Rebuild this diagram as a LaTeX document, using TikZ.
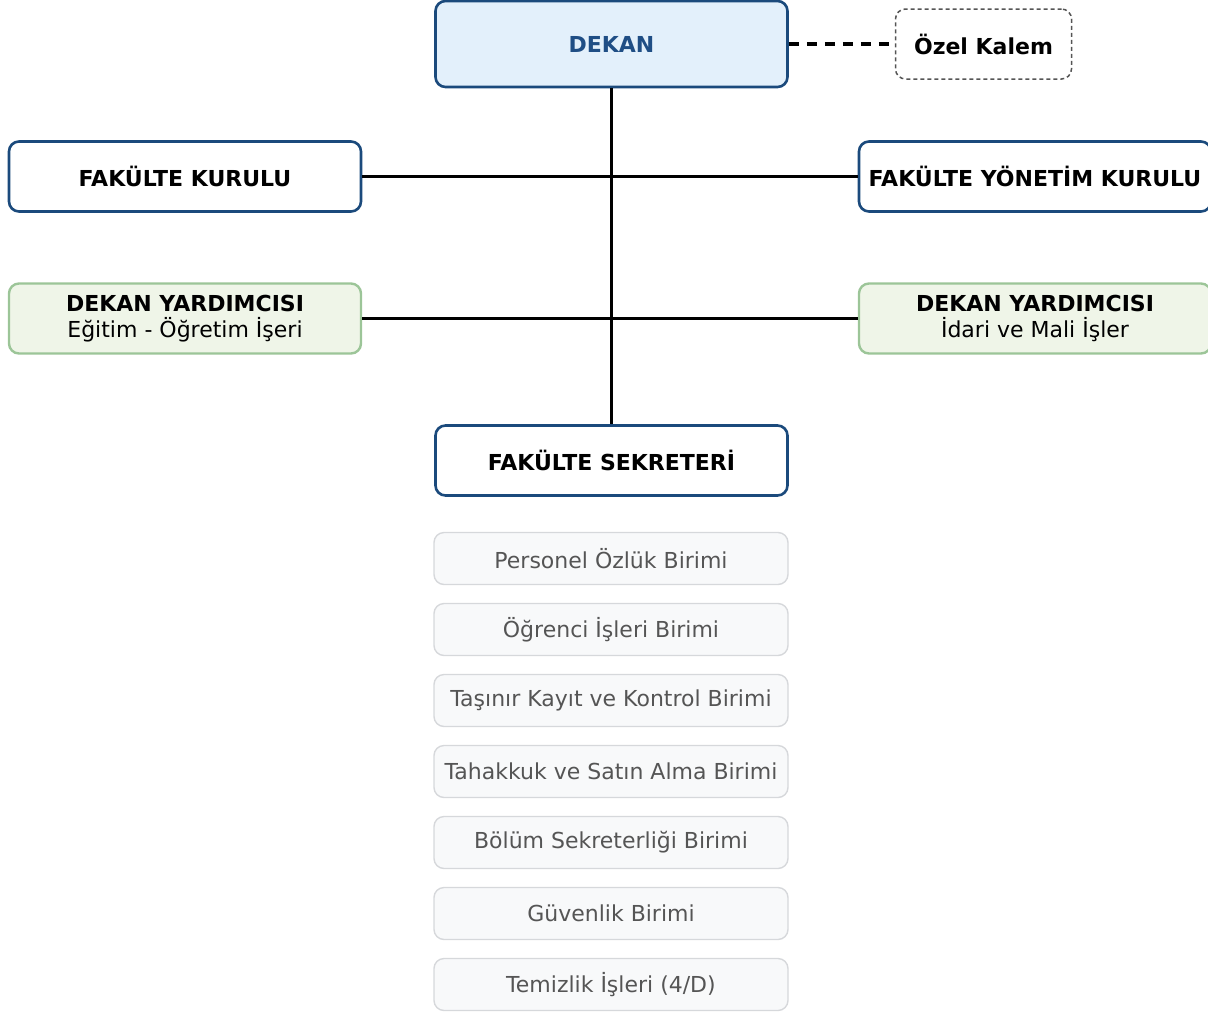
\documentclass[tikz,border=0pt]{standalone}
\usepackage{fontspec}
\setmainfont{DejaVu Sans}
\definecolor{navy}{HTML}{1B4A7C}
\definecolor{dekfill}{HTML}{E3F0FB}
\definecolor{dektext}{HTML}{1F4E85}
\definecolor{grfill}{HTML}{EFF5E8}
\definecolor{grline}{HTML}{9CC598}
\definecolor{unitfill}{HTML}{F8F9FA}
\definecolor{unitline}{HTML}{D6D8DB}
\definecolor{unittext}{HTML}{555555}
\definecolor{dashline}{HTML}{555555}
\tikzset{
  base/.style={rectangle, rounded corners=10pt, align=center, inner sep=0pt,
    font=\fontsize{22}{26}\selectfont},
  mainbox/.style={base, draw=navy, line width=2.6pt, fill=white,
    minimum width=352pt, minimum height=70pt, font=\fontsize{22}{26}\selectfont\bfseries},
  dekbox/.style={mainbox, fill=dekfill, text=dektext, minimum height=86pt},
  greenbox/.style={base, draw=grline, line width=2.4pt, fill=grfill,
    minimum width=352pt, minimum height=70pt},
  unitbox/.style={base, draw=unitline, line width=1.4pt, fill=unitfill, text=unittext,
    minimum width=354pt, minimum height=52pt},
  notebox/.style={base, draw=dashline, line width=1.5pt, dash pattern=on 4pt off 3pt,
    fill=white, minimum width=176pt, minimum height=70pt, font=\fontsize{22}{26}\selectfont\bfseries},
  link/.style={line width=3.2pt, black},
  dlink/.style={line width=3.2pt, black, dash pattern=on 10pt off 8pt}
}
\begin{document}
\begin{tikzpicture}[x=1pt,y=-1pt]
\useasboundingbox (0,0) rectangle (1208,1013);
\node[dekbox] (dek) at (611.5,44) {DEKAN};
\node[notebox] (ozel) at (983.5,44) {Özel Kalem};
\node[mainbox] (fk) at (185,176.5) {FAKÜLTE KURULU};
\node[mainbox] (fyk) at (1035,176.5) {FAKÜLTE YÖNETİM KURULU};
\node[greenbox] (dyl) at (185,318.5) {\textbf{DEKAN YARDIMCISI}\\Eğitim - Öğretim İşeri};
\node[greenbox] (dyr) at (1035,318.5) {\textbf{DEKAN YARDIMCISI}\\İdari ve Mali İşler};
\node[mainbox] (sek) at (611.5,460.5) {FAKÜLTE SEKRETERİ};
\draw[link] (fk.east) -- (fyk.west);
\draw[link] (dyl.east) -- (dyr.west);
\draw[link] (dek.south) -- (sek.north);
\draw[dlink] (dek.east) -- (ozel.west);
\node[unitbox] (u1) at (611,558.5) {Personel Özlük Birimi};
\node[unitbox] (u2) at (611,629.5) {Öğrenci İşleri Birimi};
\node[unitbox] (u3) at (611,700.5) {Taşınır Kayıt ve Kontrol Birimi};
\node[unitbox] (u4) at (611,771.5) {Tahakkuk ve Satın Alma Birimi};
\node[unitbox] (u5) at (611,842.5) {Bölüm Sekreterliği Birimi};
\node[unitbox] (u6) at (611,913.5) {Güvenlik Birimi};
\node[unitbox] (u7) at (611,984.5) {Temizlik İşleri (4/D)};
\end{tikzpicture}
\end{document}
